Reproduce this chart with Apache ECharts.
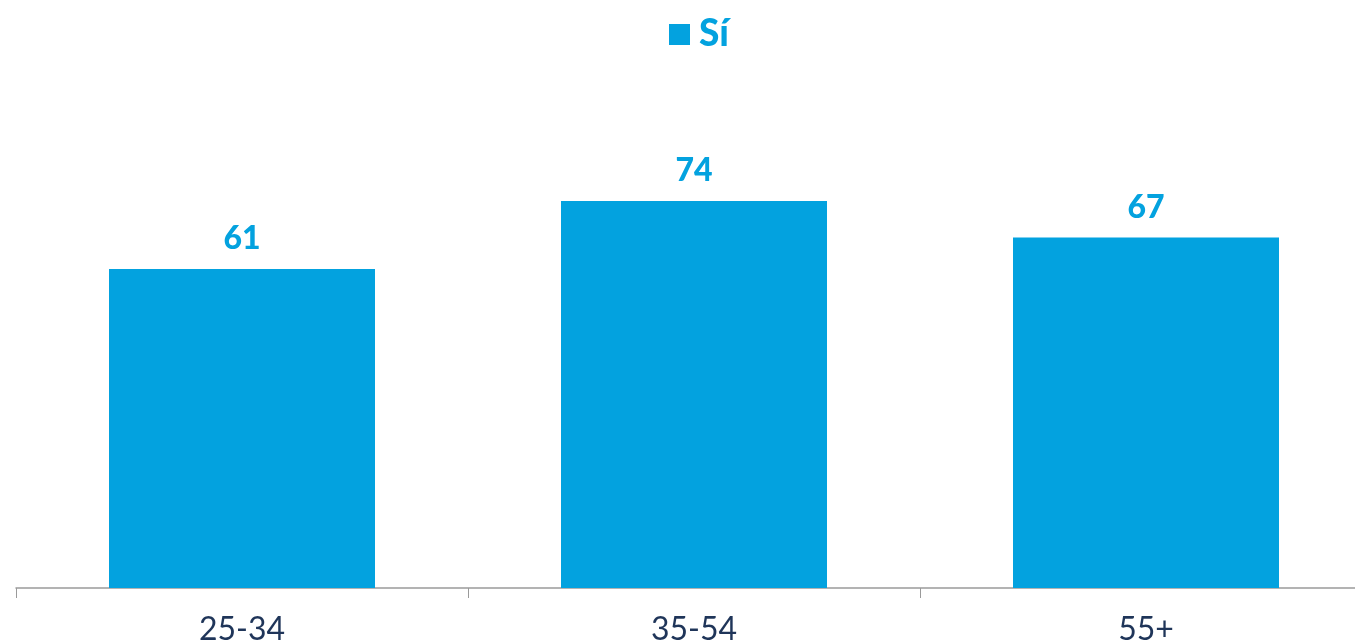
<!DOCTYPE html>
<html>
<head>
<meta charset="utf-8">
<style>
  html, body { margin: 0; padding: 0; background: #ffffff; }
  #chart { width: 1355px; height: 644px; }
</style>
<script src="https://cdn.jsdelivr.net/npm/echarts@6/dist/echarts.min.js"></script>
</head>
<body>
<div id="chart"></div>
<script>
// Age groups and the share answering "Sí"
const categories = ['25-34', '35-54', '55+'];
const siValues = [61, 74, 67];
const seriesName = 'Sí';

const blue = '#03A2DF';
const navy = '#1F3559';
const fontFamily = 'Lato, "Open Sans", sans-serif';

const chart = echarts.init(document.getElementById('chart'), null, { renderer: 'canvas' });
chart.setOption({
  animation: false,
  backgroundColor: '#ffffff',
  legend: {
    top: 11,
    left: 664,
    itemWidth: 21,
    itemHeight: 21,
    itemGap: 8,
    icon: 'rect',
    textStyle: { color: blue, fontSize: 37, fontWeight: 900, fontFamily: fontFamily, padding: [0, 0, 0, 4] },
    data: [seriesName]
  },
  // the plot runs slightly past the right edge, so the last category tick falls off-canvas
  grid: { left: 16, width: 1356, top: 65, bottom: 56, containLabel: false, outerBoundsMode: 'none' },
  xAxis: {
    type: 'category',
    data: categories,
    axisLine: { lineStyle: { color: '#9a9a9a', width: 1.5 } },
    axisTick: { show: true, length: 10, lineStyle: { color: '#9a9a9a', width: 1 } },
    axisLabel: { color: navy, fontSize: 32, fontFamily: fontFamily, margin: 26 }
  },
  yAxis: {
    type: 'value',
    min: 0,
    max: 100,
    show: false,
    splitLine: { show: false }
  },
  series: [{
    name: seriesName,
    type: 'bar',
    data: siValues,
    barWidth: 266,
    itemStyle: { color: blue },
    label: {
      show: true,
      position: 'top',
      distance: 14,
      color: blue,
      fontSize: 32,
      fontWeight: 900,
      fontFamily: fontFamily
    }
  }]
});
</script>
</body>
</html>
